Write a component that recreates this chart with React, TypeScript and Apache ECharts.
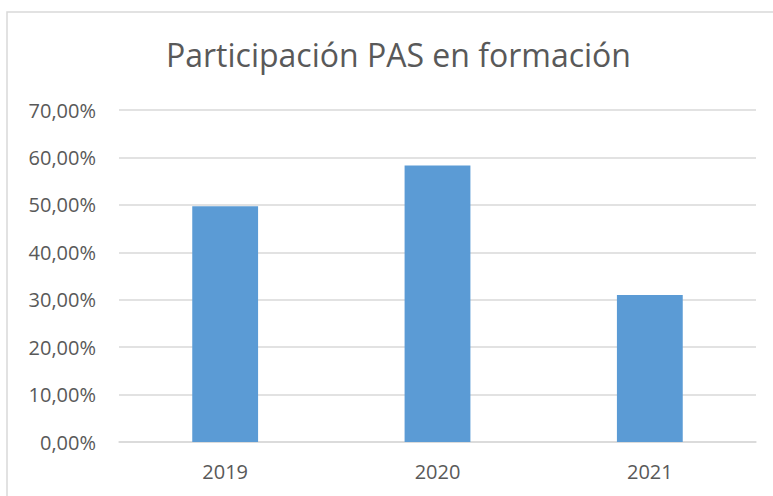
import React, { useEffect, useRef } from "react";
import * as echarts from "echarts";

const categories = ["2019", "2020", "2021"];
const participacion = [49.7, 58.3, 31.0];
const yTicks = { min: 0, max: 70, interval: 10 };
const titleText = "Participación PAS en formación";

export default function App() {
  const ref = useRef<HTMLDivElement>(null);
  useEffect(() => {
    document.body.style.margin = "0";
    const chart = echarts.init(ref.current!, null, { renderer: "svg" });
    chart.setOption({
      animation: false,
      backgroundColor: "#ffffff",
      title: {
        text: titleText,
        left: 161,
        top: 33,
        textStyle: {
          fontFamily: "Open Sans",
          fontSize: 32,
          fontWeight: "normal",
          color: "#595959",
        },
      },
      graphic: [
        {
          type: "rect",
          shape: { x: 7, y: 12, width: 800, height: 520 },
          style: { fill: "none", stroke: "#d9d9d9", lineWidth: 1.5 },
          silent: true,
        },
      ],
      grid: { left: 119, right: 17, top: 110, bottom: 54 },
      xAxis: {
        type: "category",
        data: categories,
        axisLine: { lineStyle: { color: "#d9d9d9", width: 1.5 } },
        axisTick: { show: false },
        axisLabel: {
          fontFamily: "Open Sans",
          fontSize: 20,
          color: "#595959",
          margin: 19,
        },
      },
      yAxis: {
        type: "value",
        min: yTicks.min,
        max: yTicks.max,
        interval: yTicks.interval,
        axisLine: { show: false },
        axisTick: { show: false },
        splitLine: { lineStyle: { color: "#d9d9d9", width: 1.5 } },
        axisLabel: {
          fontFamily: "Open Sans",
          fontSize: 20,
          color: "#595959",
          margin: 23,
          formatter: (v: number) => v.toFixed(2).replace(".", ",") + "%",
        },
      },
      series: [
        {
          type: "bar",
          data: participacion,
          barWidth: "31%",
          itemStyle: { color: "#5b9bd5" },
        },
      ],
    });
    return () => chart.dispose();
  }, []);
  return <div ref={ref} style={{ width: 773, height: 496 }} />;
}
